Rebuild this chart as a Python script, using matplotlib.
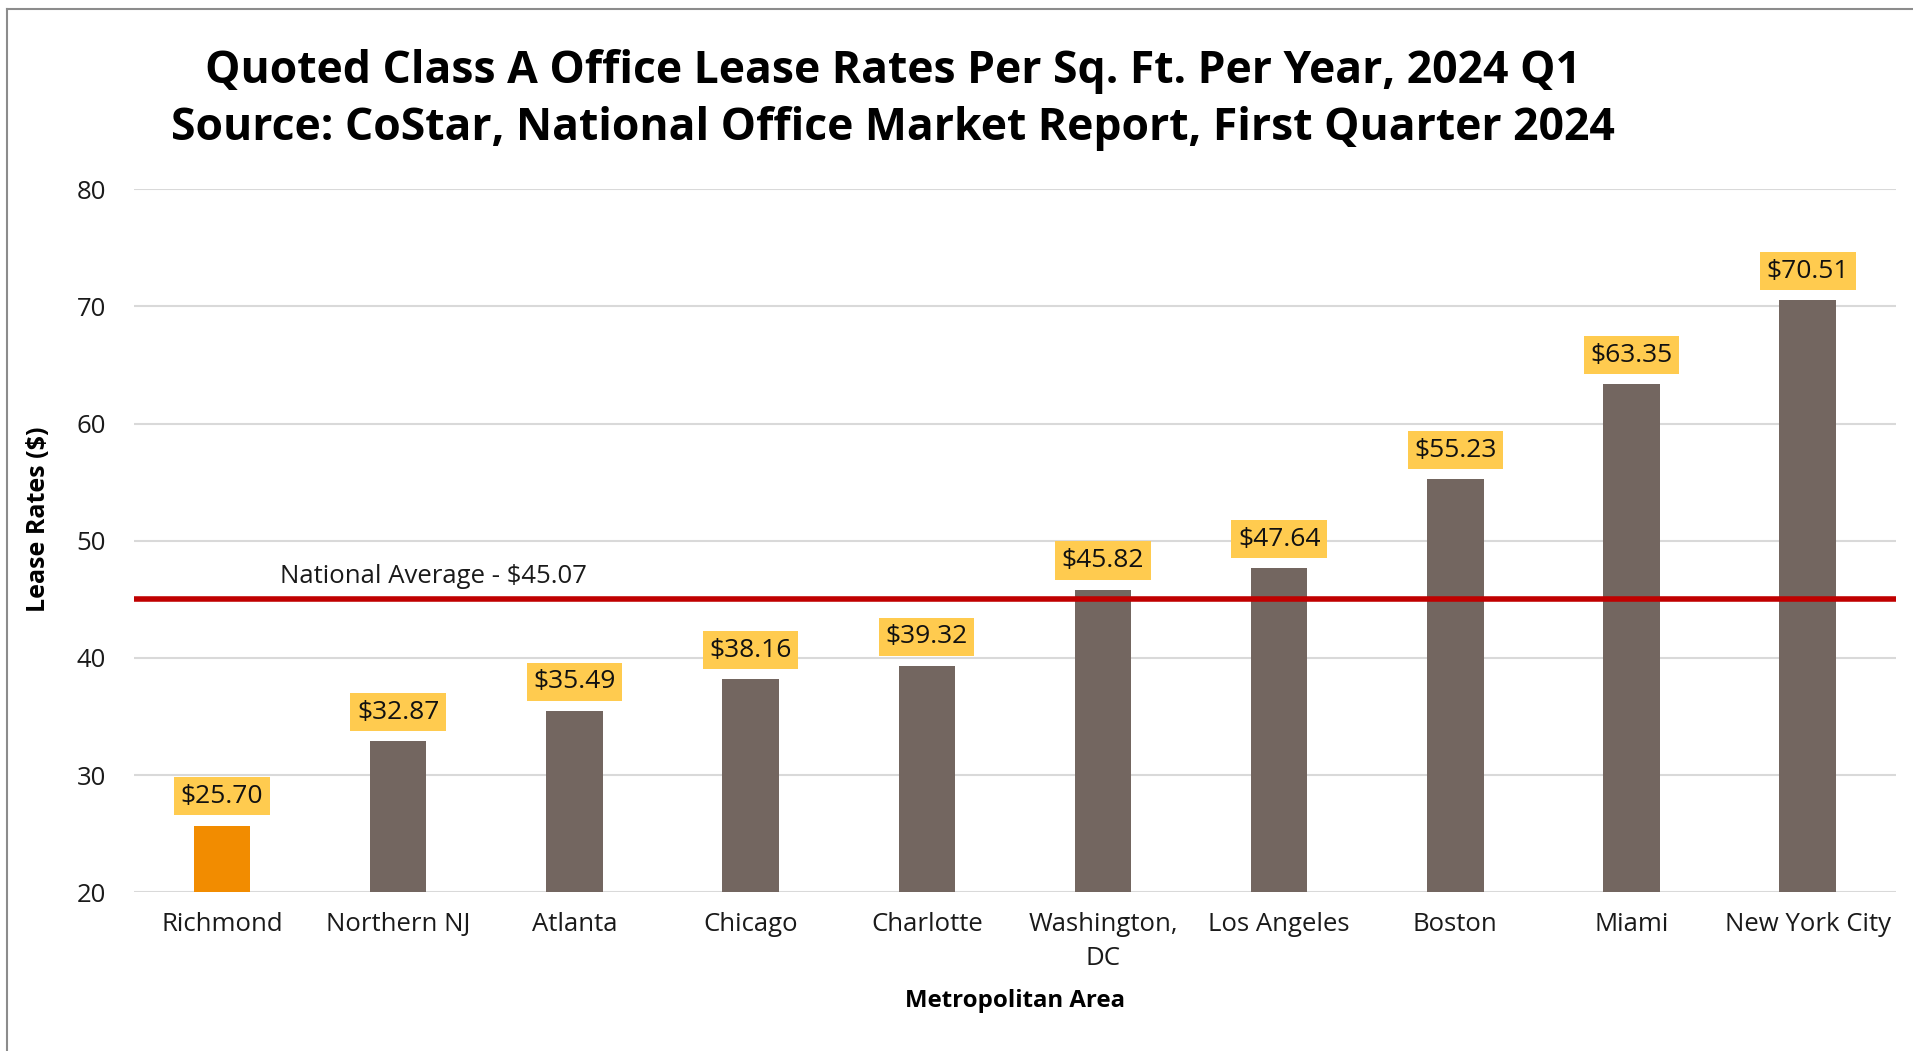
import matplotlib
matplotlib.use("Agg")
import matplotlib.pyplot as plt
from matplotlib.lines import Line2D

# data
areas = ["Richmond", "Northern NJ", "Atlanta", "Chicago", "Charlotte",
         "Washington,\nDC", "Los Angeles", "Boston", "Miami", "New York City"]
rates = [25.70, 32.87, 35.49, 38.16, 39.32, 45.82, 47.64, 55.23, 63.35, 70.51]
national_avg = 45.07
y_ticks = [20, 30, 40, 50, 60, 70, 80]

plt.rcParams["font.family"] = ["Open Sans", "DejaVu Sans"]

fig = plt.figure(figsize=(19.13, 10.51), dpi=100)
ax = fig.add_axes([0.070, 0.151, 0.921, 0.669])

colors = ["#F28C00"] + ["#736660"] * (len(areas) - 1)
x = range(len(areas))
bars = ax.bar(x, rates, width=0.32, color=colors, zorder=3, bottom=0)

ax.set_ylim(20, 80)
ax.set_xlim(-0.5, len(areas) - 0.5)
ax.set_yticks(y_ticks)
ax.set_xticks(list(x))
ax.set_xticklabels(areas, fontsize=18.5, color="#1a1a1a", linespacing=1.5)
ax.tick_params(axis="y", labelsize=18.5, length=0, pad=20, colors="#1a1a1a")
ax.tick_params(axis="x", length=0, pad=14)
ax.grid(axis="y", color="#D9D9D9", linewidth=1.5, zorder=0)
for s in ax.spines.values():
    s.set_visible(False)

# value labels
for xi, v in zip(x, rates):
    ax.annotate("${:.2f}".format(v), (xi, v), xytext=(0, 21), textcoords="offset points",
                ha="center", va="center", fontsize=19, color="#111111", zorder=5,
                bbox=dict(boxstyle="square,pad=0.25", fc="#FFCB4F", ec="none"))

# national average line
ax.plot([-0.5, len(areas) - 0.5], [national_avg, national_avg], color="#C00000",
        linewidth=4, zorder=4, solid_capstyle="butt", clip_on=False)
ax.text(0.33, national_avg + 1.9, "National Average - ${:.2f}".format(national_avg),
        fontsize=18.5, color="#1a1a1a", va="center", ha="left")

ax.set_xlabel("Metropolitan Area", fontsize=17.3, fontweight="bold", labelpad=13)
ax.set_ylabel("Lease Rates ($)", fontsize=18, fontweight="bold")
ax.yaxis.set_label_coords(-0.047, 0.531)

fig.text(0.467, 0.932, "Quoted Class A Office Lease Rates Per Sq. Ft. Per Year, 2024 Q1",
         fontsize=32, fontweight="bold", ha="center", va="center")
fig.text(0.467, 0.878, "Source: CoStar, National Office Market Report, First Quarter 2024",
         fontsize=32, fontweight="bold", ha="center", va="center")

# outer frame (left and top edges visible)
fig.add_artist(Line2D([0.0037, 0.0037], [0, 0.9915], color="#8c8c8c", linewidth=1.5))
fig.add_artist(Line2D([0.0037, 1.0], [0.9915, 0.9915], color="#8c8c8c", linewidth=1.5))

fig.savefig("out.png", dpi=100)
